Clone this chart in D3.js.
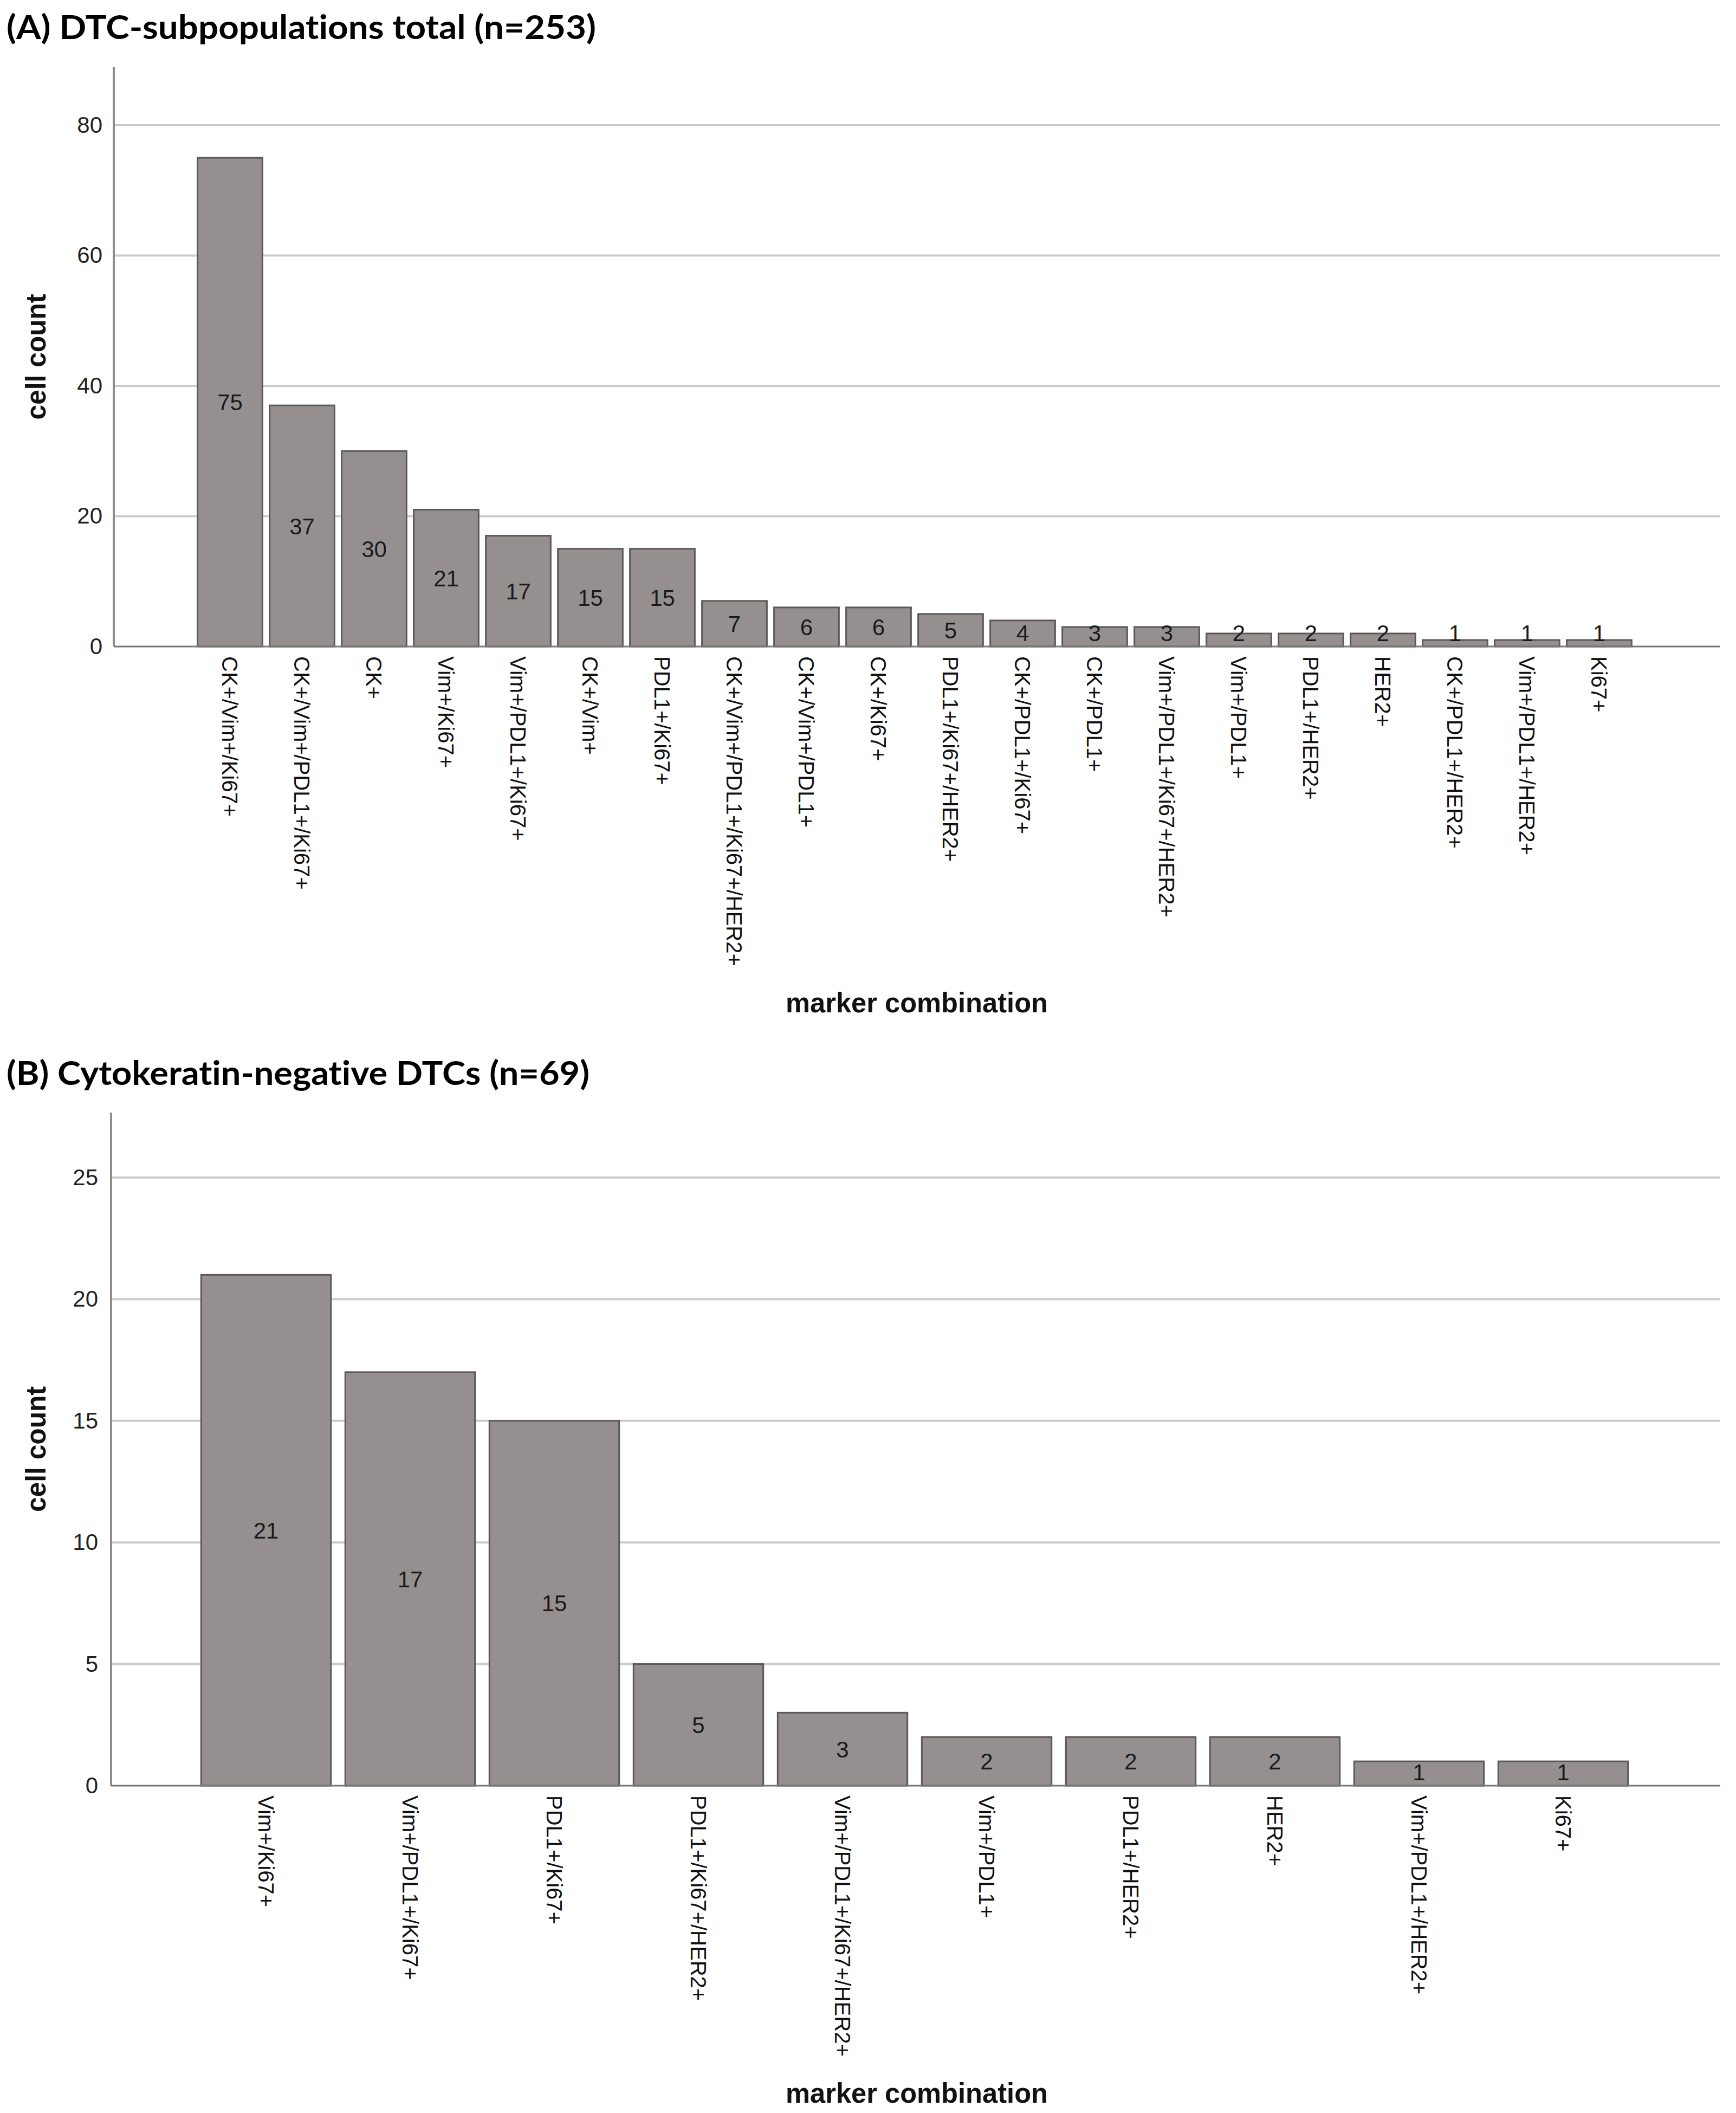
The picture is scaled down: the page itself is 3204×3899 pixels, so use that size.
<!DOCTYPE html>
<html>
<head>
<meta charset="utf-8">
<script src="https://cdn.jsdelivr.net/npm/d3@7"></script>
<style>
  html, body { margin: 0; padding: 0; background: #fff; }
  svg { display: block; }
</style>
</head>
<body>
<svg id="chart" width="3204" height="3899"></svg>
<script>
// panel A: all DTC subpopulations
const catsA = [
  "CK+/Vim+/Ki67+", "CK+/Vim+/PDL1+/Ki67+", "CK+", "Vim+/Ki67+", "Vim+/PDL1+/Ki67+",
  "CK+/Vim+", "PDL1+/Ki67+", "CK+/Vim+/PDL1+/Ki67+/HER2+", "CK+/Vim+/PDL1+", "CK+/Ki67+",
  "PDL1+/Ki67+/HER2+", "CK+/PDL1+/Ki67+", "CK+/PDL1+", "Vim+/PDL1+/Ki67+/HER2+", "Vim+/PDL1+",
  "PDL1+/HER2+", "HER2+", "CK+/PDL1+/HER2+", "Vim+/PDL1+/HER2+", "Ki67+"
];
const valsA = [75, 37, 30, 21, 17, 15, 15, 7, 6, 6, 5, 4, 3, 3, 2, 2, 2, 1, 1, 1];
const ticksA = [0, 20, 40, 60, 80];

// panel B: cytokeratin-negative only
const catsB = [
  "Vim+/Ki67+", "Vim+/PDL1+/Ki67+", "PDL1+/Ki67+", "PDL1+/Ki67+/HER2+", "Vim+/PDL1+/Ki67+/HER2+",
  "Vim+/PDL1+", "PDL1+/HER2+", "HER2+", "Vim+/PDL1+/HER2+", "Ki67+"
];
const valsB = [21, 17, 15, 5, 3, 2, 2, 2, 1, 1];
const ticksB = [0, 5, 10, 15, 20, 25];

const svg = d3.select("#chart");
const labelFont = "'Liberation Sans', Arial, sans-serif";

function drawPanel(opt) {
  const g = svg.append("g");
  const data = opt.cats.map((c, i) => ({ cat: c, val: opt.vals[i] }));

  const x = d3.scaleBand()
    .domain(opt.cats)
    .range([358, 3018])
    .paddingInner(0.1)
    .paddingOuter(0.05);

  const y = d3.scaleLinear()
    .domain([0, opt.yMax])
    .range([opt.base, opt.top]);

  // title
  g.append("text")
    .attr("x", 12)
    .attr("y", opt.titleY)
    .attr("textLength", opt.titleW)
    .attr("lengthAdjust", "spacingAndGlyphs")
    .style("font-family", "Lato, 'Open Sans', sans-serif")
    .style("font-weight", "bold")
    .style("font-size", "62px")
    .style("font-variant-ligatures", "none")
    .attr("fill", "#000")
    .text(opt.title);

  // gridlines
  g.append("g").selectAll("line")
    .data(opt.ticks.filter(t => t > 0)).enter()
    .append("line")
    .attr("x1", opt.axisX).attr("x2", 3175)
    .attr("y1", d => y(d)).attr("y2", d => y(d))
    .attr("stroke", "#cbcbcb")
    .attr("stroke-width", 4);

  // y axis (labels only from d3 axis)
  const yAxis = d3.axisLeft(y).tickValues(opt.ticks).tickSize(0).tickPadding(0);
  const ya = g.append("g")
    .attr("transform", `translate(${opt.axisX - opt.labelGap}, 0)`)
    .call(yAxis);
  ya.select(".domain").remove();
  ya.selectAll("text")
    .style("font-family", labelFont)
    .style("font-size", "42px")
    .attr("fill", "#222");

  g.append("line")
    .attr("x1", opt.axisX).attr("x2", opt.axisX)
    .attr("y1", opt.top).attr("y2", opt.base)
    .attr("stroke", "#8e8e8e")
    .attr("stroke-width", 4);

  // bars
  g.append("g").selectAll("rect")
    .data(data).enter()
    .append("rect")
    .attr("x", d => x(d.cat))
    .attr("y", d => y(d.val))
    .attr("width", x.bandwidth())
    .attr("height", d => y(0) - y(d.val))
    .attr("fill", "#95908f")
    .attr("stroke", "#5a5858")
    .attr("stroke-width", 3);

  // baseline
  g.append("line")
    .attr("x1", opt.axisX).attr("x2", 3175)
    .attr("y1", opt.base).attr("y2", opt.base)
    .attr("stroke", "#777")
    .attr("stroke-width", 3);

  // value labels in the bars
  g.append("g").selectAll("text")
    .data(data).enter()
    .append("text")
    .attr("x", d => x(d.cat) + x.bandwidth() / 2)
    .attr("y", d => Math.min((y(d.val) + y(0)) / 2, opt.base - 25))
    .attr("dy", "0.36em")
    .attr("text-anchor", "middle")
    .style("font-family", labelFont)
    .style("font-size", "42px")
    .attr("fill", "#1a1a1a")
    .text(d => d.val);

  // category labels, rotated
  g.append("g").selectAll("text")
    .data(opt.cats).enter()
    .append("text")
    .attr("transform", d => `translate(${x(d) + x.bandwidth() / 2}, ${opt.base + 18}) rotate(90)`)
    .attr("dy", "0.36em")
    .attr("text-anchor", "start")
    .style("font-family", labelFont)
    .style("font-size", "40px")
    .attr("fill", "#111")
    .text(d => d);

  // axis titles
  g.append("text")
    .attr("transform", `translate(84, ${(opt.top + opt.base) / 2}) rotate(-90)`)
    .attr("text-anchor", "middle")
    .attr("textLength", 232)
    .attr("lengthAdjust", "spacingAndGlyphs")
    .style("font-family", labelFont)
    .style("font-weight", "bold")
    .style("font-size", "52px")
    .attr("fill", "#111")
    .text("cell count");

  g.append("text")
    .attr("x", 1692)
    .attr("y", opt.xTitleY)
    .attr("text-anchor", "middle")
    .attr("textLength", 484)
    .attr("lengthAdjust", "spacingAndGlyphs")
    .style("font-family", labelFont)
    .style("font-weight", "bold")
    .style("font-size", "52px")
    .attr("fill", "#111")
    .text("marker combination");
}

drawPanel({
  title: "(A) DTC-subpopulations total (n=253)",
  titleY: 72, titleW: 1088,
  cats: catsA, vals: valsA, ticks: ticksA,
  yMax: 88.9, top: 124, base: 1193,
  axisX: 210, labelGap: 21,
  xTitleY: 1868
});

drawPanel({
  title: "(B) Cytokeratin-negative DTCs (n=69)",
  titleY: 2002, titleW: 1076,
  cats: catsB, vals: valsB, ticks: ticksB,
  yMax: 27.67, top: 2053, base: 3295,
  axisX: 205, labelGap: 24,
  xTitleY: 3880
});
</script>
</body>
</html>
